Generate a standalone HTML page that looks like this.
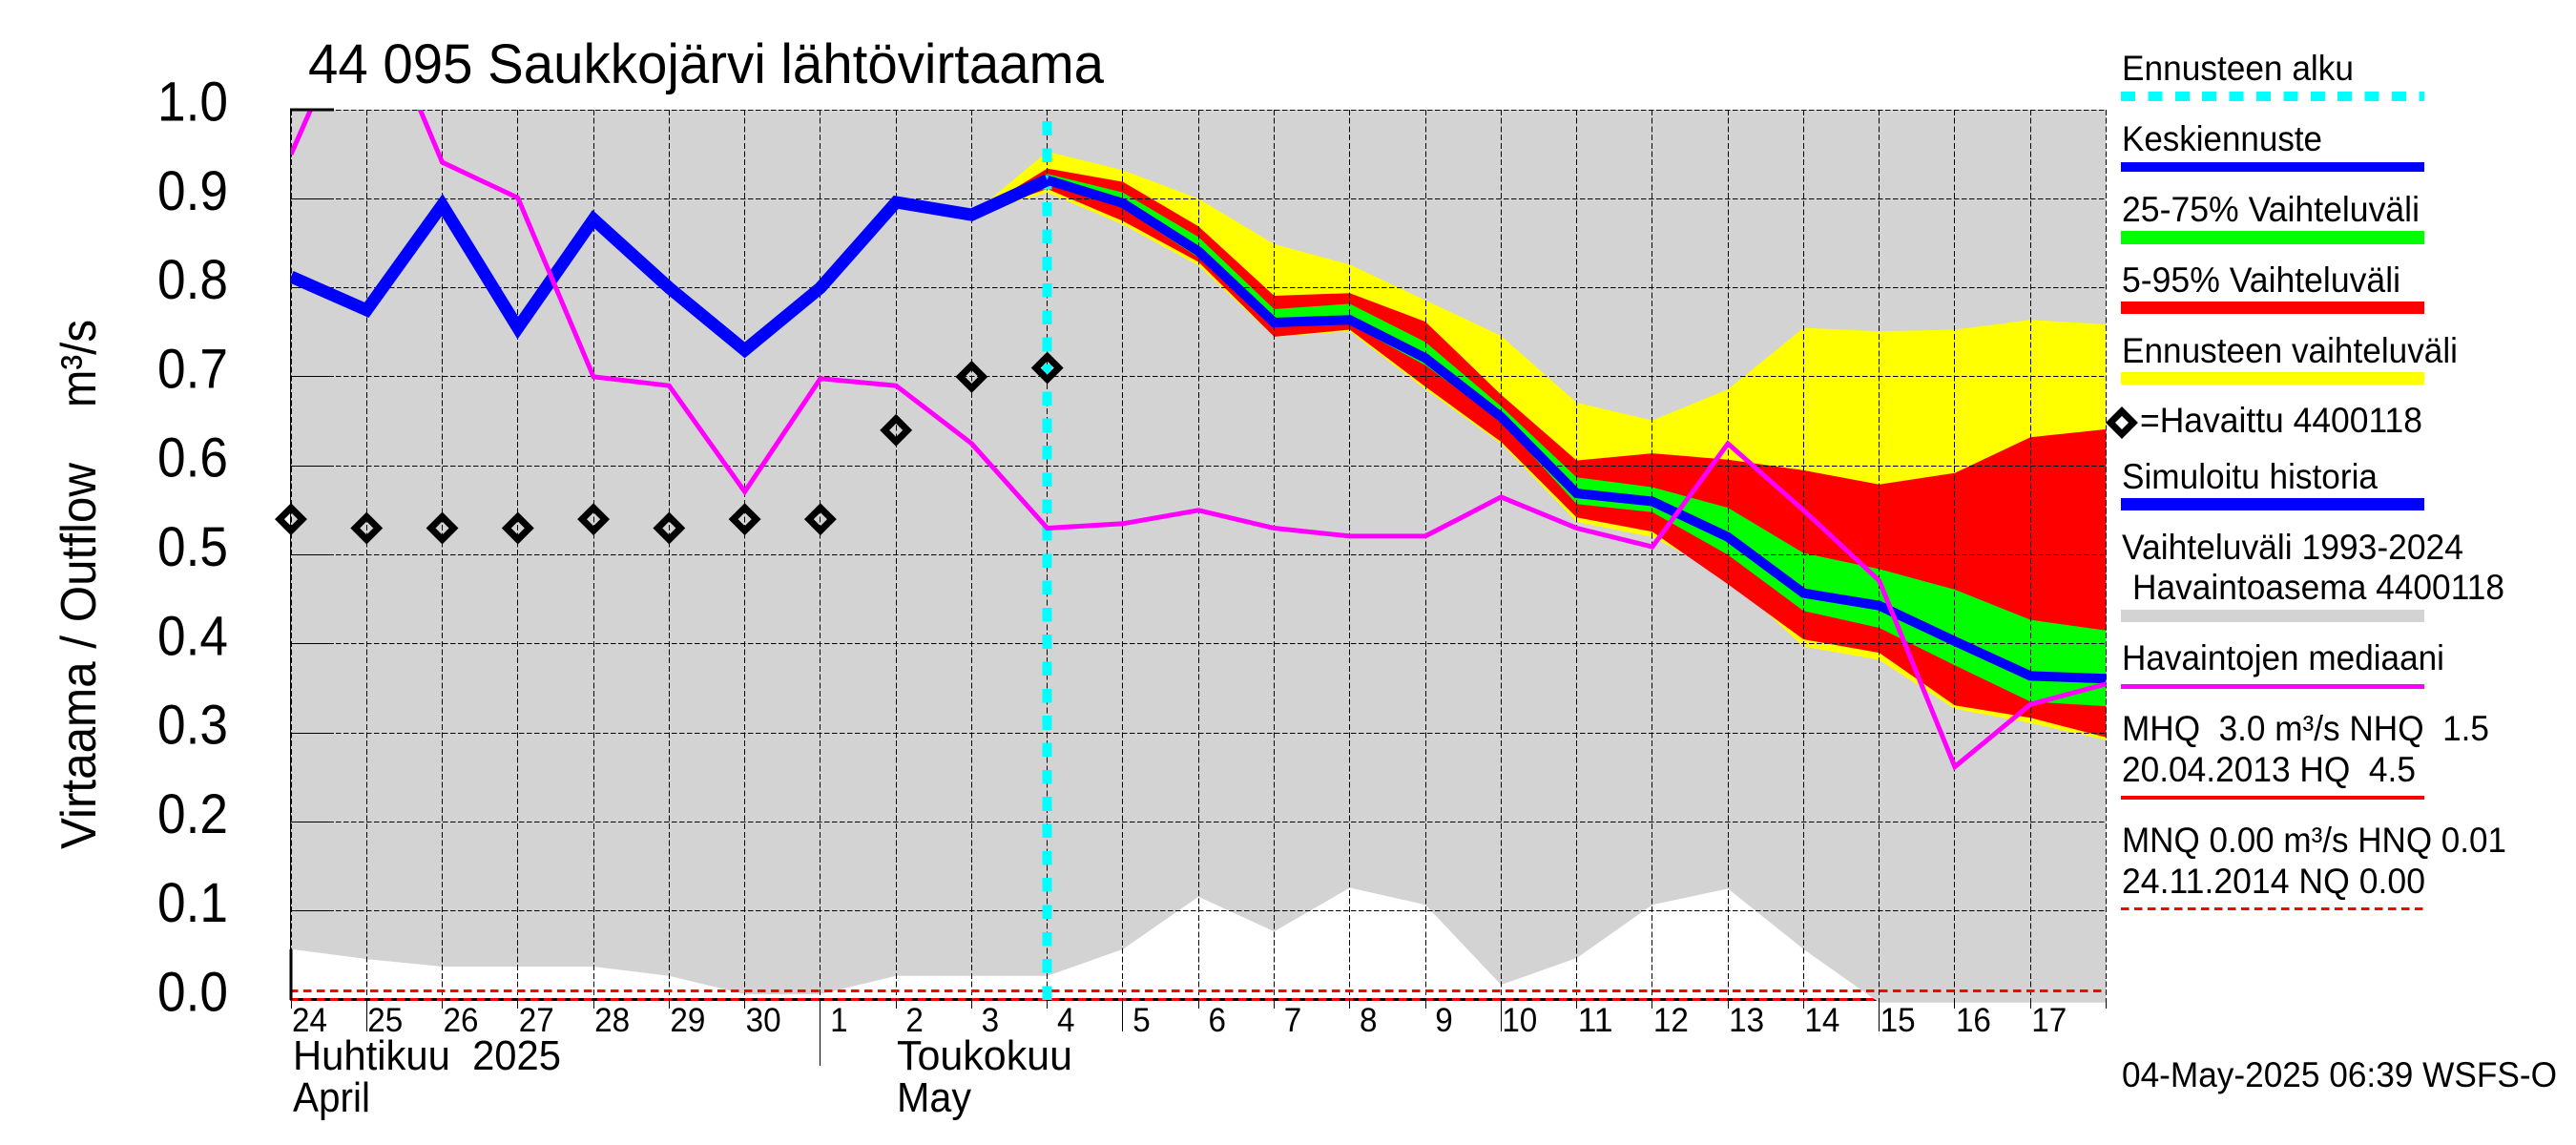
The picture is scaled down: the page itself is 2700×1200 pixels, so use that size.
<!DOCTYPE html>
<html lang="fi">
<head>
<meta charset="utf-8">
<title>44 095 Saukkojärvi lähtövirtaama</title>
<style>
html,body{margin:0;padding:0;background:#fff;}
svg{display:block;}
text{font-family:"Liberation Sans",sans-serif;fill:#000;white-space:pre;}
.lg{font-size:37px;}
.tick{font-size:58px;}
.day{font-size:35px;}
.month{font-size:44px;}
</style>
</head>
<body>
<svg id="chart" xmlns="http://www.w3.org/2000/svg" width="2700" height="1200" viewBox="0 0 2700 1200">
  <defs>
    <clipPath id="plot-clip"><rect x="304" y="115" width="1904" height="936"></rect></clipPath>
  </defs>
  <rect x="0" y="0" width="2700" height="1200" fill="#fff"></rect>
  <text x="323" y="87" font-size="58" textLength="834" lengthAdjust="spacingAndGlyphs">44 095 Saukkojärvi lähtövirtaama</text>
  <text transform="translate(100 890) rotate(-90)" font-size="52" textLength="405" lengthAdjust="spacingAndGlyphs">Virtaama / Outflow</text>
  <text transform="translate(100 427) rotate(-90)" font-size="52" textLength="92" lengthAdjust="spacingAndGlyphs">m³/s</text>

  <g id="layer-axis"></g>
  <g id="layer-range"></g>
  <g id="layer-bands"></g>
  <g id="layer-grid"></g>
  <g id="layer-ref"></g>
  <g id="layer-start"></g>
  <g id="layer-obs"></g>
  <g id="layer-lines" clip-path="url(#plot-clip)"></g>
  <g id="layer-ticks"></g>
  <g id="layer-labels"></g>

  <text class="month" x="307" y="1121" textLength="281" lengthAdjust="spacingAndGlyphs">Huhtikuu  2025</text>
  <text class="month" x="307" y="1165" textLength="81" lengthAdjust="spacingAndGlyphs">April</text>
  <text class="month" x="940" y="1121" textLength="184" lengthAdjust="spacingAndGlyphs">Toukokuu</text>
  <text class="month" x="940" y="1165" textLength="78" lengthAdjust="spacingAndGlyphs">May</text>

  <g>
    <text class="lg" x="2224" y="84" textLength="243" lengthAdjust="spacingAndGlyphs">Ennusteen alku</text>
    <line x1="2223" x2="2541" y1="101" y2="101" stroke="#00ffff" stroke-width="10" stroke-dasharray="15 13.4" shape-rendering="crispEdges"></line>

    <text class="lg" x="2224" y="158" textLength="210" lengthAdjust="spacingAndGlyphs">Keskiennuste</text>
    <rect x="2223" y="170" width="318" height="10" fill="#0000ff"></rect>

    <text class="lg" x="2224" y="232" textLength="312" lengthAdjust="spacingAndGlyphs">25-75% Vaihteluväli</text>
    <rect x="2223" y="242" width="318" height="14" fill="#00ff00"></rect>

    <text class="lg" x="2224" y="306" textLength="292" lengthAdjust="spacingAndGlyphs">5-95% Vaihteluväli</text>
    <rect x="2223" y="316" width="318" height="13" fill="#ff0000"></rect>

    <text class="lg" x="2224" y="380" textLength="352" lengthAdjust="spacingAndGlyphs">Ennusteen vaihteluväli</text>
    <rect x="2223" y="390" width="318" height="13" fill="#ffff00"></rect>

    <polygon points="2224,431 2236,443 2224,455 2212,443" fill="none" stroke="#000" stroke-width="7" stroke-miterlimit="10"></polygon>
    <text class="lg" x="2243" y="453" textLength="296" lengthAdjust="spacingAndGlyphs">=Havaittu 4400118</text>

    <text class="lg" x="2224" y="512" textLength="268" lengthAdjust="spacingAndGlyphs">Simuloitu historia</text>
    <rect x="2223" y="522" width="318" height="13" fill="#0000ff"></rect>

    <text class="lg" x="2224" y="586" textLength="358" lengthAdjust="spacingAndGlyphs">Vaihteluväli 1993-2024</text>
    <text class="lg" x="2235" y="628" textLength="390" lengthAdjust="spacingAndGlyphs">Havaintoasema 4400118</text>
    <rect x="2223" y="639" width="318" height="13" fill="#d3d3d3"></rect>

    <text class="lg" x="2224" y="702" textLength="338" lengthAdjust="spacingAndGlyphs">Havaintojen mediaani</text>
    <rect x="2223" y="717" width="318" height="5" fill="#ff00ff"></rect>

    <text class="lg" x="2224" y="776" textLength="385" lengthAdjust="spacingAndGlyphs">MHQ  3.0 m³/s NHQ  1.5</text>
    <text class="lg" x="2224" y="819" textLength="308" lengthAdjust="spacingAndGlyphs">20.04.2013 HQ  4.5</text>
    <rect x="2223" y="834" width="318" height="4" fill="#ff0000"></rect>

    <text class="lg" x="2224" y="893" textLength="403" lengthAdjust="spacingAndGlyphs">MNQ 0.00 m³/s HNQ 0.01</text>
    <text class="lg" x="2224" y="936" textLength="318" lengthAdjust="spacingAndGlyphs">24.11.2014 NQ 0.00</text>
    <line x1="2223" x2="2541" y1="952.5" y2="952.5" stroke="#ff0000" stroke-width="3" stroke-dasharray="8.5 5.5" shape-rendering="crispEdges"></line>
  </g>

  <text class="lg" x="2224" y="1139" textLength="456" lengthAdjust="spacingAndGlyphs">04-May-2025 06:39 WSFS-O</text>
</svg>

<script>
// ---- chart data ----
const dayLabels = ["24","25","26","27","28","29","30","1","2","3","4","5","6","7","8","9","10","11","12","13","14","15","16","17","18"];
const yTickValues = [0,0.1,0.2,0.3,0.4,0.5,0.6,0.7,0.8,0.9,1.0];
const yTickLabels = ["0.0","0.1","0.2","0.3","0.4","0.5","0.6","0.7","0.8","0.9","1.0"];
const longTickDays = ["25","5","10","15"];
const monthTickDays = ["1"];
const forecastStartDay = 10;
const bandStartDay = 9;
const lowReferenceValue = 0.01;

const rangeLower = [0.057,0.046,0.0375,0.0375,0.0375,0.027,0.0065,0.0065,0.027,0.027,0.027,0.057,0.116,0.077,0.126,0.107,0.017,0.047,0.107,0.125,0.057,-0.003,-0.003,-0.003,-0.003];
const simulatedHistory = [0.8125,0.775,0.893,0.755,0.877,0.80,0.73,0.80,0.896,0.882,0.921];
const meanForecast = [0.921,0.895,0.841,0.761,0.764,0.721,0.655,0.569,0.56,0.52,0.457,0.443,0.403,0.364,0.361];
const yellowUpper = [0.882,0.953,0.932,0.90,0.849,0.826,0.786,0.746,0.671,0.651,0.686,0.755,0.751,0.753,0.764,0.759];
const yellowLower = [0.882,0.907,0.871,0.825,0.745,0.751,0.686,0.625,0.537,0.52,0.475,0.397,0.382,0.327,0.311,0.292];
const redUpper = [0.882,0.934,0.919,0.869,0.791,0.794,0.762,0.68,0.606,0.614,0.607,0.595,0.579,0.592,0.632,0.641];
const redLower = [0.882,0.911,0.875,0.829,0.745,0.753,0.689,0.627,0.542,0.526,0.467,0.405,0.39,0.331,0.317,0.295];
const greenUpper = [0.882,0.928,0.907,0.857,0.776,0.782,0.739,0.667,0.587,0.576,0.553,0.502,0.484,0.461,0.427,0.415];
const greenLower = [0.882,0.927,0.889,0.834,0.759,0.759,0.713,0.65,0.557,0.548,0.50,0.437,0.418,0.376,0.335,0.33];
const medianFlow = [0.95,1.143,0.941,0.901,0.70,0.69,0.571,0.698,0.69,0.625,0.53,0.535,0.55,0.53,0.521,0.521,0.565,0.53,0.509,0.625,0.55,0.471,0.262,0.332,0.355];
const observedFlow = [0.54,0.53,0.53,0.53,0.54,0.53,0.54,0.54,0.64,0.70,0.71];

// ---- axis functions ----
function xs(i){ return 305 + i * 79.27; }
function ys(v){ return 1048 - v * 933; }
function xPix(i){ return Math.floor(xs(i)) + 0.5; }
function yPix(v){ return Math.floor(ys(v)) + 0.5; }

const NS = "http://www.w3.org/2000/svg";
function mk(tag, parent){
  const el = document.createElementNS(NS, tag);
  document.getElementById(parent).appendChild(el);
  return el;
}
function linePts(values, offset){
  return values.map(function(v, k){ return xs(k + offset).toFixed(1) + "," + ys(v).toFixed(1); });
}
function bandPts(upper, lower, offset){
  const top = linePts(upper, offset);
  const bottom = linePts(lower, offset).reverse();
  return top.concat(bottom).join(" ");
}

// x-axis baseline under the grey range
const axisBlack = mk("line", "layer-axis");


axisBlack.setAttribute("x1", 304);
axisBlack.setAttribute("x2", xs(24));
axisBlack.setAttribute("y1", ys(0) - 0.5);
axisBlack.setAttribute("y2", ys(0) - 0.5);
axisBlack.setAttribute("stroke", "#000");
axisBlack.setAttribute("stroke-width", 3);
axisBlack.setAttribute("shape-rendering", "crispEdges");

const axisRed = mk("line", "layer-axis");


axisRed.setAttribute("x1", 304);
axisRed.setAttribute("x2", xs(24));
axisRed.setAttribute("y1", ys(0) - 0.5);
axisRed.setAttribute("y2", ys(0) - 0.5);
axisRed.setAttribute("stroke", "#ff0000");
axisRed.setAttribute("stroke-width", 3);
axisRed.setAttribute("stroke-dasharray", "8.5 5.5");
axisRed.setAttribute("shape-rendering", "crispEdges");

// grey historical range: from top of plot down to the lower bound
const rangePoly = mk("polygon", "layer-range");


rangePoly.setAttribute("fill", "#d3d3d3");
rangePoly.setAttribute("points", "304," + ys(1) + " " + xs(24) + "," + ys(1) + " " + linePts(rangeLower, 0).reverse().join(" ") + " 304," + ys(rangeLower[0]));

// forecast bands
const yellowBand = mk("polygon", "layer-bands");


yellowBand.setAttribute("fill", "#ffff00");
yellowBand.setAttribute("points", bandPts(yellowUpper, yellowLower, bandStartDay));

const redBand = mk("polygon", "layer-bands");


redBand.setAttribute("fill", "#ff0000");
redBand.setAttribute("points", bandPts(redUpper, redLower, bandStartDay));

const greenBand = mk("polygon", "layer-bands");


greenBand.setAttribute("fill", "#00ff00");
greenBand.setAttribute("points", bandPts(greenUpper, greenLower, bandStartDay));

// grid
yTickValues.forEach(function(v, k){
  if (k === 0) return;
  const g = mk("line", "layer-grid");
  
  
  g.setAttribute("x1", 304);
  g.setAttribute("x2", xs(24));
  g.setAttribute("y1", yPix(v));
  g.setAttribute("y2", yPix(v));
  g.setAttribute("stroke", "#000");
  g.setAttribute("stroke-width", 1);
  g.setAttribute("stroke-dasharray", "5.5 2.5");
  g.setAttribute("shape-rendering", "crispEdges");
});
dayLabels.forEach(function(d, i){
  const g = mk("line", "layer-grid");
  
  
  g.setAttribute("x1", xPix(i));
  g.setAttribute("x2", xPix(i));
  g.setAttribute("y1", ys(1));
  g.setAttribute("y2", ys(0));
  g.setAttribute("stroke", "#000");
  g.setAttribute("stroke-width", 1);
  g.setAttribute("stroke-dasharray", "6 2.7");
  g.setAttribute("shape-rendering", "crispEdges");
});

// low reference dashed line (HNQ)
const refLine = mk("line", "layer-ref");


refLine.setAttribute("x1", 304);
refLine.setAttribute("x2", xs(24));
refLine.setAttribute("y1", ys(lowReferenceValue));
refLine.setAttribute("y2", ys(lowReferenceValue));
refLine.setAttribute("stroke", "#ff0000");
refLine.setAttribute("stroke-width", 3);
refLine.setAttribute("stroke-dasharray", "8.5 5.5");
refLine.setAttribute("shape-rendering", "crispEdges");

// forecast start marker, dashes counted upward from the baseline
const startLine = mk("line", "layer-start");


startLine.setAttribute("x1", xs(forecastStartDay));
startLine.setAttribute("x2", xs(forecastStartDay));
startLine.setAttribute("y1", ys(0));
startLine.setAttribute("y2", ys(1));
startLine.setAttribute("stroke", "#00ffff");
startLine.setAttribute("stroke-width", 10);
startLine.setAttribute("stroke-dasharray", "14.6 13.72");
startLine.setAttribute("shape-rendering", "crispEdges");

// observed diamonds
observedFlow.forEach(function(v, i){
  const cx = xs(i), cy = ys(v), r = 12;
  const d = mk("polygon", "layer-obs");
  
  
  d.setAttribute("fill", "none");
  d.setAttribute("stroke", "#000");
  d.setAttribute("stroke-width", 7);
  d.setAttribute("stroke-miterlimit", 10);
  d.setAttribute("points", cx + "," + (cy - r) + " " + (cx + r) + "," + cy + " " + cx + "," + (cy + r) + " " + (cx - r) + "," + cy);
});

// lines
const histLine = mk("polyline", "layer-lines");


histLine.setAttribute("fill", "none");
histLine.setAttribute("stroke", "#0000ff");
histLine.setAttribute("stroke-width", 13);
histLine.setAttribute("stroke-miterlimit", 6);
histLine.setAttribute("points", linePts(simulatedHistory, 0).join(" "));

const meanLine = mk("polyline", "layer-lines");


meanLine.setAttribute("fill", "none");
meanLine.setAttribute("stroke", "#0000ff");
meanLine.setAttribute("stroke-width", 10);
meanLine.setAttribute("stroke-miterlimit", 6);
meanLine.setAttribute("points", linePts(meanForecast, forecastStartDay).join(" "));

const medLine = mk("polyline", "layer-lines");


medLine.setAttribute("fill", "none");
medLine.setAttribute("stroke", "#ff00ff");
medLine.setAttribute("stroke-width", 5);
medLine.setAttribute("stroke-miterlimit", 10);
medLine.setAttribute("points", linePts(medianFlow, 0).join(" "));

// axis lines and ticks
const yAxis = mk("line", "layer-ticks");


yAxis.setAttribute("x1", 304.5);
yAxis.setAttribute("x2", 304.5);
yAxis.setAttribute("y1", ys(1));
yAxis.setAttribute("y2", ys(0));
yAxis.setAttribute("stroke", "#000");
yAxis.setAttribute("stroke-width", 1);
yAxis.setAttribute("shape-rendering", "crispEdges");

const yAxisLow = mk("line", "layer-ticks");


yAxisLow.setAttribute("x1", 305);
yAxisLow.setAttribute("x2", 305);
yAxisLow.setAttribute("y1", ys(rangeLower[0]));
yAxisLow.setAttribute("y2", ys(0));
yAxisLow.setAttribute("stroke", "#000");
yAxisLow.setAttribute("stroke-width", 3);
yAxisLow.setAttribute("shape-rendering", "crispEdges");

yTickValues.forEach(function(v, k){
  if (k === 0) return;
  const t = mk("line", "layer-ticks");
  
  
  t.setAttribute("x1", 304);
  t.setAttribute("x2", 350);
  t.setAttribute("y1", v === 1 ? ys(v) : yPix(v));
  t.setAttribute("y2", v === 1 ? ys(v) : yPix(v));
  t.setAttribute("stroke", "#000");
  t.setAttribute("stroke-width", v === 1 ? 3 : 1);
  t.setAttribute("shape-rendering", "crispEdges");
});

dayLabels.forEach(function(d, i){
  let bottom = 1057;
  if (longTickDays.indexOf(d) >= 0) bottom = 1081;
  if (monthTickDays.indexOf(d) >= 0) bottom = 1117;
  const t = mk("line", "layer-ticks");
  
  
  t.setAttribute("x1", xPix(i));
  t.setAttribute("x2", xPix(i));
  t.setAttribute("y1", ys(0));
  t.setAttribute("y2", bottom);
  t.setAttribute("stroke", "#000");
  t.setAttribute("stroke-width", 1);
  t.setAttribute("shape-rendering", "crispEdges");
});

// labels
yTickValues.forEach(function(v, k){
  const t = mk("text", "layer-labels");
  
  
  t.setAttribute("class", "tick");
  t.setAttribute("x", 239);
  t.setAttribute("y", ys(v) + 11.5);
  t.setAttribute("text-anchor", "end");
  t.setAttribute("textLength", 74);
  t.setAttribute("lengthAdjust", "spacingAndGlyphs");
  t.textContent = yTickLabels[k];
});
dayLabels.forEach(function(d, i){
  if (i === dayLabels.length - 1) return;
  const t = mk("text", "layer-labels");
  
  
  t.setAttribute("class", "day");
  t.setAttribute("x", xs(i) + 19.5);
  t.setAttribute("y", 1081);
  t.setAttribute("text-anchor", "middle");
  t.setAttribute("textLength", d.length * 18.5);
  t.setAttribute("lengthAdjust", "spacingAndGlyphs");
  t.textContent = d;
});
</script>
</body>
</html>
